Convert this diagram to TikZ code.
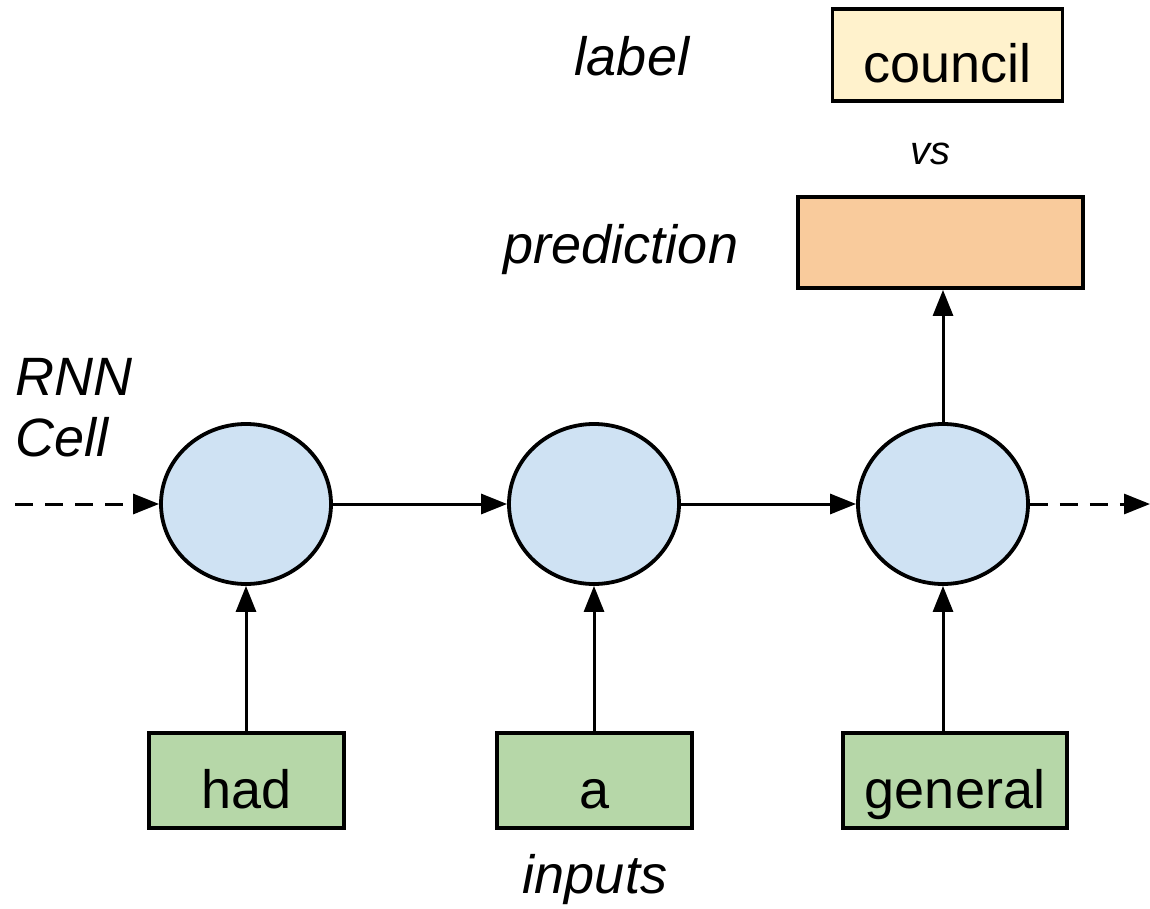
\documentclass[tikz,border=0pt]{standalone}
\usepackage{fontspec}
\setmainfont{Liberation Sans}
\usetikzlibrary{arrows.meta,shapes.geometric}
\definecolor{cellblue}{HTML}{CFE2F3}
\definecolor{ingreen}{HTML}{B6D7A8}
\definecolor{predorange}{HTML}{F9CB9C}
\definecolor{labelyellow}{HTML}{FFF2CC}
\tikzset{
  cell/.style={ellipse, draw=black, line width=3.8pt, fill=cellblue, minimum width=170pt, minimum height=160pt, inner sep=0pt},
  wordbox/.style={rectangle, draw=black, line width=3.8pt, inner sep=0pt, minimum height=95pt, text height=75pt, text depth=20pt, font=\fontsize{54}{60}\selectfont},
  inbox/.style={wordbox, fill=ingreen},
  caption/.style={font=\fontsize{54}{60}\selectfont\itshape, inner sep=0pt, anchor=base},
  conn/.style={line width=3pt, -{Triangle[length=26pt,width=20pt]}},
  dconn/.style={conn, dash pattern=on 18pt off 12pt}
}
\begin{document}
\begin{tikzpicture}[x=1pt,y=-1pt]
\useasboundingbox (0,0) rectangle (1150,909);
% cells
\node[cell] (c1) at (246,504) {};
\node[cell] (c2) at (594,504) {};
\node[cell] (c3) at (943,504) {};
% inputs
\node[inbox, minimum width=195pt] (w1) at (246.5,780.5) {had};
\node[inbox, minimum width=195pt] (w2) at (594.5,780.5) {a};
\node[inbox, minimum width=224pt] (w3) at (955,780.5) {general};
% prediction and label
\node[wordbox, fill=predorange, minimum width=285pt, minimum height=91pt, text height=0pt, text depth=0pt] (pred) at (940.5,242.5) {};
\node[wordbox, fill=labelyellow, minimum width=230pt, minimum height=92pt, text height=74pt, text depth=18pt] (lab) at (947.5,55) {council};
% captions
\node[caption] (tlabel) at (632,76) {label};
\node[caption] (tpred) at (621,263) {prediction};
\node[caption, font=\fontsize{40}{48}\selectfont\itshape] (tvs) at (930,165) {vs};
\node[caption, anchor=base west] (trnn) at (15,395) {RNN};
\node[caption, anchor=base west] (tcell) at (15,456) {Cell};
\node[caption] (tin) at (595,893) {inputs};
% connectors
\coordinate (lstart) at (15,504);
\coordinate (rend) at (1150,504);
\draw[dconn] (lstart) -- (c1.west);
\draw[conn] (c1.east) -- (c2.west);
\draw[conn] (c2.east) -- (c3.west);
\draw[dconn] (c3.east) -- (rend);
\draw[conn] (w1.north -| c1) -- (c1.south);
\draw[conn] (w2.north -| c2) -- (c2.south);
\draw[conn] (w3.north -| c3) -- (c3.south);
\draw[conn] (c3.north) -- (pred.south -| c3);
\end{tikzpicture}
\end{document}
